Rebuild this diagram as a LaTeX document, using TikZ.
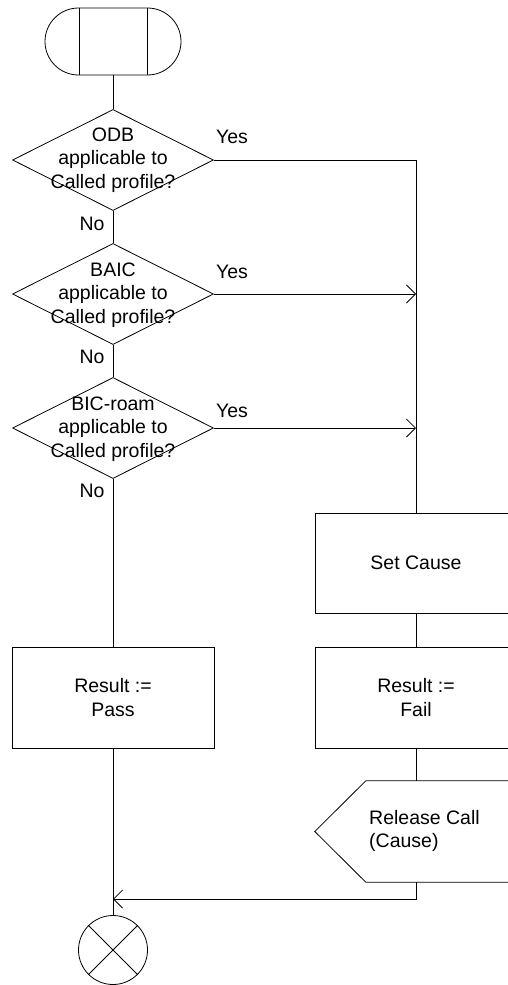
\documentclass[tikz,border=0pt]{standalone}
\usepackage{fontspec}
\setmainfont{Liberation Sans}
\usetikzlibrary{shapes.geometric,shapes.misc,arrows.meta}
\begin{document}
\begin{tikzpicture}[x=1pt,y=-1pt,
  every node/.style={font=\fontsize{19.5}{23.5}\selectfont},
  ln/.style={line width=0.8pt, draw=black},
  arr/.style={ln, -{Straight Barb[length=9pt,width=18pt]}},
  dec/.style={diamond, draw, ln, minimum width=201pt, minimum height=101pt, inner sep=0pt},
  dtxt/.style={align=center, inner sep=0pt},
  proc/.style={rectangle, draw, ln, minimum width=202pt, minimum height=101pt, inner sep=0pt, align=center},
  lbl/.style={inner sep=0pt}
]
\useasboundingbox (0,0) rectangle (508,985);
% start
\node[rounded rectangle, draw, ln, minimum width=136pt, minimum height=67pt, inner sep=0pt] (start) at (113,41.5) {};
\draw[ln] ([xshift=-34pt]start.north) -- ([xshift=-34pt]start.south);
\draw[ln] ([xshift=34pt]start.north) -- ([xshift=34pt]start.south);
% decisions
\node[dec] (d1) at (113,160) {};
\node[dtxt] (t1) at (113,160) {ODB\\applicable to\\Called profile?};
\node[dec] (d2) at (113,294) {};
\node[dtxt] (t2) at (113,295) {BAIC\\applicable to\\Called profile?};
\node[dec] (d3) at (113,428) {};
\node[dtxt] (t3) at (113,429) {BIC-roam\\applicable to\\Called profile?};
% labels
\node[lbl] (y1) at (232,137) {Yes};
\node[lbl] (y2) at (232,272) {Yes};
\node[lbl] (y3) at (232,411) {Yes};
\node[lbl] (n1) at (92,224) {No};
\node[lbl] (n2) at (92,357) {No};
\node[lbl] (n3) at (92,491) {No};
% boxes
\node[proc, minimum height=100pt] (setc) at (416,563) {Set Cause};
\node[proc] (fail) at (416,697.5) {Result :=\\Fail};
\node[proc] (pass) at (113,697.5) {Result :=\\Pass};
\node[minimum width=202pt, minimum height=101pt, inner sep=0pt] (rel) at (416,831.5) {};
\draw[ln] (rel.west) -- ([xshift=51pt]rel.north west) -- (rel.north east) -- (rel.south east) -- ([xshift=51pt]rel.south west) -- cycle;
\node[align=left, anchor=west, inner sep=0pt] (relt) at (369,831) {Release Call\\(Cause)};
% end
\node[circle, draw, ln, minimum size=69pt, inner sep=0pt] (endc) at (113,950) {};
\draw[ln] (endc.north west) -- (endc.south east) (endc.north east) -- (endc.south west);
\coordinate (m) at (113,899);
% connectors
\draw[ln] (start.south) -- (d1.north);
\draw[ln] (d1.south) -- (d2.north);
\draw[ln] (d2.south) -- (d3.north);
\draw[ln] (d3.south) -- (pass.north);
\draw[ln] (d1.east) -| (setc.north);
\draw[arr] (d2.east) -- (d2.east -| setc.north);
\draw[arr] (d3.east) -- (d3.east -| setc.north);
\draw[ln] (setc.south) -- (fail.north);
\draw[ln] (fail.south) -- (rel.north);
\draw[arr] (rel.south) |- (m);
\draw[ln] (pass.south) -- (endc.north);
\end{tikzpicture}
\end{document}
